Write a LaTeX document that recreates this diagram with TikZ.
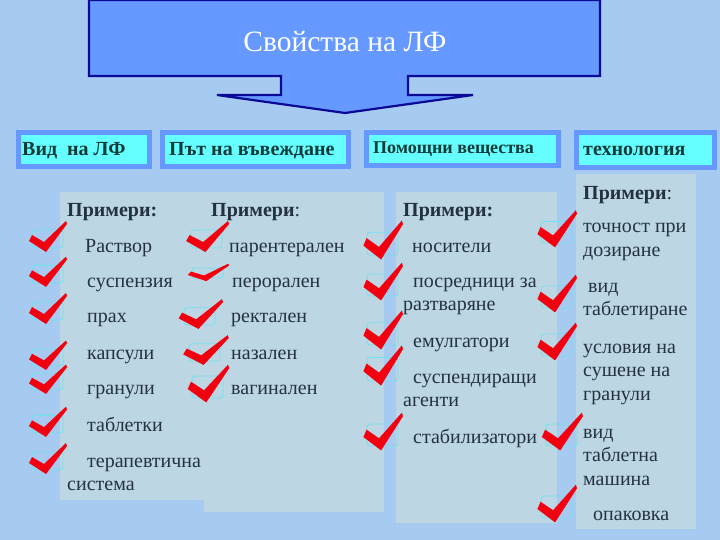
\documentclass[tikz,border=0pt]{standalone}
\usepackage{fontspec}
\setmainfont{Liberation Serif}
\definecolor{bgblue}{HTML}{A6CAF0}
\definecolor{panelc}{HTML}{BDD6E3}
\definecolor{arrowfill}{HTML}{6699FF}
\definecolor{arrowline}{HTML}{0A0A96}
\definecolor{hdrfill}{HTML}{66FFFF}
\definecolor{hdrline}{HTML}{6699FF}
\definecolor{hdrtxt}{HTML}{0E3A3A}
\definecolor{bodytxt}{HTML}{243240}
\definecolor{chkred}{HTML}{F20010}
\definecolor{cboxc}{HTML}{6FE2EE}
\newcommand\chk[4]{%
  \begin{scope}[shift={(#1,#2)}]
    \draw[cbox] (-11,{-18*#4-2}) rectangle (20,-2);
    \fill[chkred,xscale=#3,yscale=#4] (-11,-15) -- (1,-8) -- (23,-29) -- (24,-26) -- (3,2) -- (-14,-9) -- cycle;
  \end{scope}}
\begin{document}
\begin{tikzpicture}[x=1pt,y=-1pt,
  panel/.style={fill=panelc},
  hdrbox/.style={draw=hdrline,line width=5pt,fill=hdrfill},
  hdrtext/.style={anchor=base west,inner sep=0pt,text=hdrtxt,font=\fontsize{20}{23}\selectfont\bfseries},
  item/.style={anchor=base west,inner sep=0pt,text=bodytxt,font=\fontsize{20}{23.5}\selectfont},
  ex/.style={anchor=base west,inner sep=0pt,text=bodytxt,font=\fontsize{20}{23}\selectfont\bfseries},
  cbox/.style={draw=cboxc,line width=0.8pt,rounded corners=3pt}]
\useasboundingbox (0,0) rectangle (720,540);
\fill[bgblue] (0,0) rectangle (720,540);
% big arrow
\filldraw[fill=arrowfill,draw=arrowline,line width=2.2pt,line join=miter]
  (89,0) -- (600,0) -- (600,76) -- (408,76) -- (408,95) -- (473,95) -- (345,113)
  -- (217,95) -- (281,95) -- (281,76) -- (89,76) -- cycle;
\node[text=white,font=\fontsize{29.5}{33}\selectfont] (title) at (345,42) {Свойства на ЛФ};
% headers
\draw[hdrbox] (18.5,132.5) rectangle (149.5,166.5);
\draw[hdrbox] (162.5,132.5) rectangle (348.5,166.5);
\draw[hdrbox] (366.5,132.5) rectangle (558.5,165.5);
\draw[hdrbox] (576.5,132.5) rectangle (714.5,167.5);
\node[hdrtext] (h1) at (22,156) {Вид~ на ЛФ};
\node[hdrtext] (h2) at (169,156) {Път на въвеждане};
\node[hdrtext,font=\fontsize{18}{20}\selectfont\bfseries] (h3) at (373,154) {Помощни вещества};
\node[hdrtext] (h4) at (583,156) {технология};
% panels
\fill[panel] (60,192) rectangle (220,500);
\fill[panel] (204,192) rectangle (384,512);
\fill[panel] (396,192) rectangle (557,523);
\fill[panel] (576,174) rectangle (696,529);
% column 1
\node[ex] (e1) at (67,217) {Примери:};
\node[item] (a1) at (85,252) {Раствор};
\node[item] (a2) at (87,287) {суспензия};
\node[item] (a3) at (87,322) {прах};
\node[item] (a4) at (87,359) {капсули};
\node[item] (a5) at (87,394) {гранули};
\node[item] (a6) at (87,431) {таблетки};
\node[item] (a7) at (67,467) {\begin{tabular}[t]{@{}l@{}}\hspace{20pt}терапевтична\\система\end{tabular}};
\chk{43}{250}{1}{1}
\chk{43}{285}{1}{0.98}
\chk{43}{322}{1}{1}
\chk{43}{368}{1}{0.95}
\chk{43}{392}{1}{0.95}
\chk{43}{435}{1}{0.98}
\chk{43}{472}{1}{1}
% column 2
\node[ex] (e2) at (211,217) {Примери\textmd{:}};
\node[item] (b1) at (229,252) {парентерален};
\node[item] (b2) at (232,287) {перорален};
\node[item] (b3) at (231,322) {ректален};
\node[item] (b4) at (231,359) {назален};
\node[item] (b5) at (231,394) {вагинален};
\chk{202}{250}{1.13}{1}
\chk{203}{280}{1.09}{0.56}
\chk{195}{327}{1.17}{0.96}
\chk{200}{363}{1.2}{0.96}
\chk{203}{400}{1.09}{1.22}
% column 3
\node[ex] (e3) at (403,217) {Примери:};
\node[item] (c1) at (412,252) {носители};
\node[item] (c2) at (403,287) {\begin{tabular}[t]{@{}l@{}}\hspace{10pt}посредници за\\разтваряне\end{tabular}};
\node[item] (c3) at (413,347) {емулгатори};
\node[item] (c4) at (403,383) {\begin{tabular}[t]{@{}l@{}}\hspace{10pt}суспендиращи\\агенти\end{tabular}};
\node[item] (c5) at (413,443) {стабилизатори};
\chk{378}{257}{1.04}{1.26}
\chk{378}{298}{1.04}{1.22}
\chk{378}{347}{1.04}{1.26}
\chk{378}{383}{1.04}{1.3}
\chk{378}{448}{1.04}{1.22}
% column 4
\node[ex] (e4) at (583,200) {Примери\textmd{:}};
\node[item] (d1) at (583,233) {\begin{tabular}[t]{@{}l@{}}точност при\\дозиране\end{tabular}};
\node[item] (d2) at (583,292) {\begin{tabular}[t]{@{}l@{}}\hspace{5pt}вид\\таблетиране\end{tabular}};
\node[item] (d3) at (583,353) {\begin{tabular}[t]{@{}l@{}}условия на\\сушене на\\гранули\end{tabular}};
\node[item] (d4) at (583,438) {\begin{tabular}[t]{@{}l@{}}вид\\таблетна\\машина\end{tabular}};
\node[item] (d5) at (593,520) {опаковка};
\chk{552}{245}{1.04}{1.2}
\chk{552}{310}{1.04}{1.22}
\chk{552}{358}{1.04}{1.22}
\chk{557}{448}{1.08}{1.22}
\chk{552}{520}{1.04}{1.22}
\end{tikzpicture}
\end{document}
